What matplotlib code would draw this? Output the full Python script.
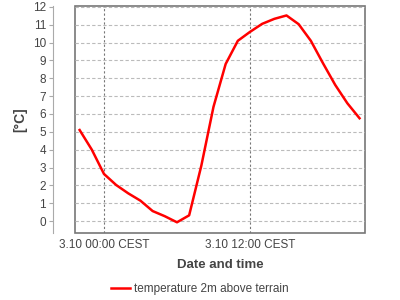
import matplotlib
matplotlib.use("Agg")
import matplotlib.pyplot as plt
from matplotlib.patches import Rectangle

# hours relative to 3.10 00:00 CEST
hours = list(range(-2, 22))
temps = [5.1, 4.0, 2.64, 2.02, 1.55, 1.14, 0.56, 0.27, -0.07, 0.32, 3.1, 6.4,
         8.8, 10.1, 10.6, 11.05, 11.33, 11.52, 11.03, 10.1, 8.84, 7.63, 6.6, 5.76]
tick_hours = [0, 12]
tick_labels = ['3.10 00:00 CEST', '3.10 12:00 CEST']
series_name = 'temperature 2m above terrain'

plt.rcParams['font.family'] = ['Liberation Sans', 'DejaVu Sans']
txt = '#444444'

fig = plt.figure(figsize=(4, 3), dpi=100)
ax = fig.add_axes([75/400, 1 - 233/300, 290/400, 227/300])

line, = ax.plot(hours, temps, color='#ff0000', lw=1.8, label=series_name)

ax.set_xlim(-2.38, 21.45)
ax.set_ylim(-0.67, 12.05)
ax.set_yticks(range(0, 13))
ax.set_xticks(tick_hours)
ax.set_xticklabels(tick_labels)

ax.grid(axis='y', color='#bbbbbb', ls=(0, (3, 2)), lw=0.8)
ax.grid(axis='x', color='#777777', ls=(0, (2, 2)), lw=0.8)

# frame around plot area, y axis moved out to the left
for s in ['top', 'right', 'bottom']:
    ax.spines[s].set_visible(False)
ax.spines['left'].set_position(('outward', 22 * 72 / 100))
ax.spines['left'].set_color('#aaaaaa')
ax.add_patch(Rectangle((0, 0), 1, 1, transform=ax.transAxes, fill=False,
                       edgecolor='#777777', lw=1.2, clip_on=False))

ax.tick_params(axis='y', colors='#aaaaaa', labelcolor=txt, labelsize=8.5,
               length=3, pad=2)
ax.tick_params(axis='x', length=0, labelcolor=txt, labelsize=8.5, pad=4)

ax.set_xlabel('Date and time', fontsize=9.5, fontweight='bold', color=txt,
              labelpad=6)
ax.set_ylabel('[°C]', fontsize=10, fontweight='bold', color=txt, labelpad=4)

fig.legend(handles=[line], loc='center', bbox_to_anchor=(0.5, 11/300),
           frameon=False, fontsize=8.5, labelcolor=txt, handlelength=1.6,
           handletextpad=0.4)

fig.savefig('out.png', dpi=100)
